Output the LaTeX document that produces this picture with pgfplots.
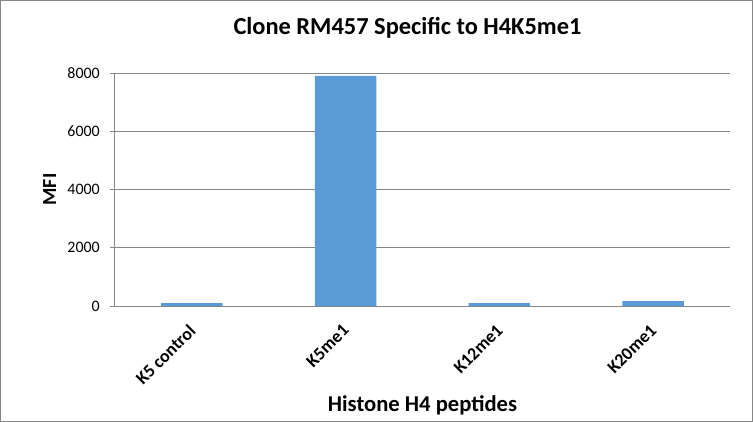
\documentclass[border=0pt]{standalone}
\usepackage{fontspec}
\setmainfont{Carlito}
\usepackage{pgfplots}
\pgfplotsset{compat=1.18}
\definecolor{barblue}{HTML}{5B9BD5}
\definecolor{axgray}{HTML}{868686}
\begin{document}
\begin{tikzpicture}
\begin{axis}[
  at={(0,0)}, anchor=south west,
  scale only axis, width=615bp, height=233bp,
  xmin=-0.5, xmax=3.5, ymin=0, ymax=8000,
  axis x line=bottom, axis y line=left,
  axis line style={draw=axgray, line width=1bp, -},
  ytick={0,2000,4000,6000,8000},
  ymajorgrids, grid style={draw=axgray, line width=0.8bp},
  tick align=outside, major tick length=5bp,
  tick style={draw=axgray, line width=1bp},
  xtick={0,1,2,3},
  xticklabels={K5 control, K5me1, K12me1, K20me1},
  x tick style={draw=none},
  xticklabel style={xshift=-4bp, yshift=-12bp, rotate=45, anchor=north east, inner sep=0pt, font=\fontsize{18}{21}\selectfont\bfseries},
  yticklabel style={font=\fontsize{16}{19}\selectfont, anchor=east, inner sep=0pt, xshift=-10bp},
  /pgf/number format/assume math mode=true,
  /pgf/number format/1000 sep={},
  title={Clone RM457 Specific to H4K5me1},
  title style={at={(axis description cs:0.4756,1.1416)}, anchor=base, inner sep=0pt, font=\fontsize{24.5}{28}\selectfont\bfseries},
  xlabel={Histone H4 peptides},
  xlabel style={at={(axis description cs:0.5,-0.4536)}, anchor=base, inner sep=0pt, font=\fontsize{22.7}{26}\selectfont\bfseries},
  ylabel={MFI},
  ylabel style={at={(axis description cs:-0.0959,0.5)}, anchor=base, rotate=0, inner sep=0pt, font=\fontsize{20}{24}\selectfont\bfseries},
  ybar, bar width=0.4,
]
\addplot[fill=barblue, draw=none] coordinates {(0,100) (1,7900) (2,100) (3,170)};
\end{axis}
\draw[axgray, line width=1bp] (-114.5bp,-115.5bp) rectangle (637.5bp,305.5bp);
\end{tikzpicture}
\end{document}
